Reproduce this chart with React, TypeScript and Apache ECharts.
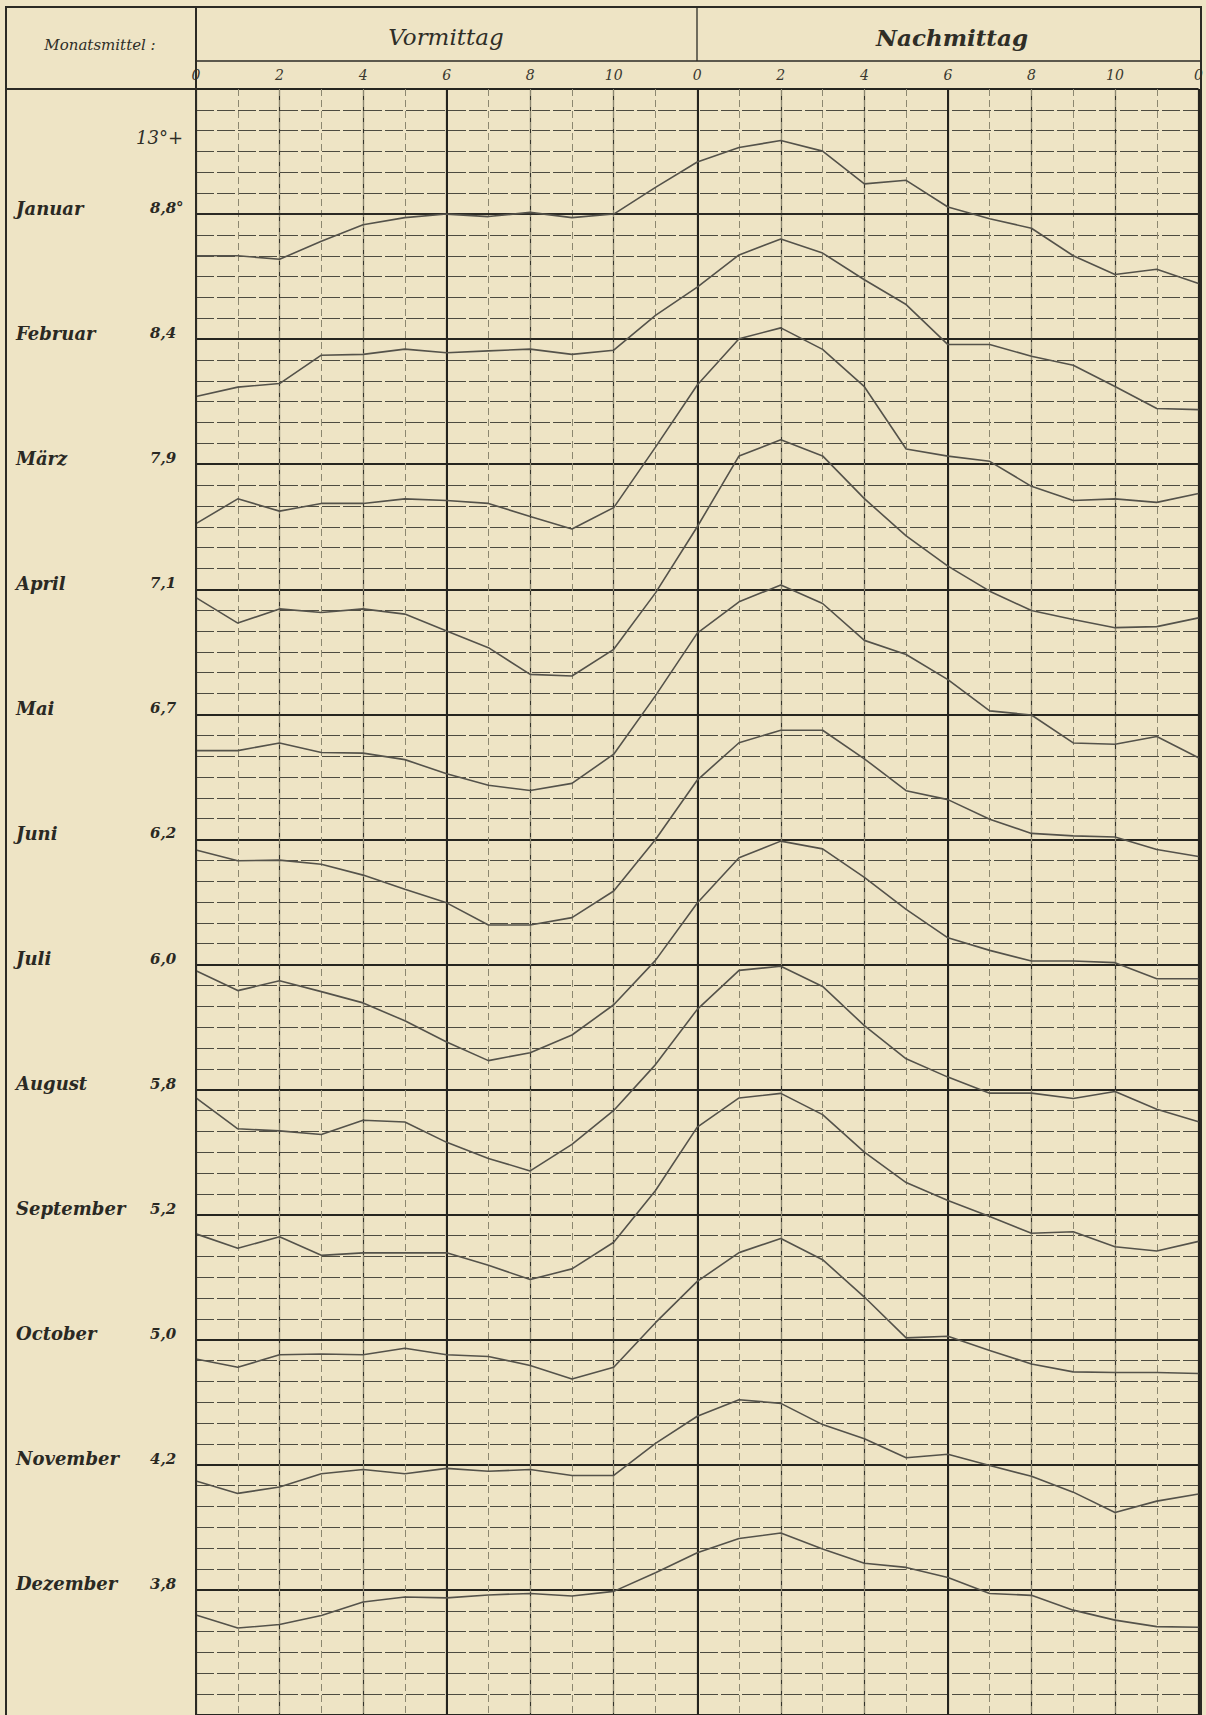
import React, { useEffect, useRef } from "react";
import * as echarts from "echarts";

// ---- data -------------------------------------------------------------
// hours of the day (0 = midnight, 12 = noon, 24 = midnight)
const hours = [0, 1, 2, 3, 4, 5, 6, 7, 8, 9, 10, 11, 12, 13, 14, 15, 16, 17, 18, 19, 20, 21, 22, 23, 24];
const hourTickLabels = ["0", "2", "4", "6", "8", "10", "0", "2", "4", "6", "8", "10", "0"];

const months = ["Januar", "Februar", "März", "April", "Mai", "Juni", "Juli", "August", "September", "October", "November", "Dezember"];
const monthMeans = ["8,8", "8,4", "7,9", "7,1", "6,7", "6,2", "6,0", "5,8", "5,2", "5,0", "4,2", "3,8"];
const scaleNote = "13°+";

// hourly deviation of each month from its mean, in grid divisions (up = warmer)
const januar = [-2.0, -2.0, -2.17, -1.3, -0.51, -0.17, 0, -0.12, 0.08, -0.17, 0, 1.28, 2.5, 3.19, 3.53, 3.02, 1.45, 1.62, 0.34, -0.22, -0.68, -2.0, -2.9, -2.65, -3.33];
const februar = [-2.75, -2.3, -2.13, -0.77, -0.73, -0.48, -0.65, -0.56, -0.48, -0.73, -0.53, 1.14, 2.5, 4.04, 4.81, 4.13, 2.85, 1.66, -0.26, -0.26, -0.82, -1.25, -2.27, -3.33, -3.38];
const maerz = [-2.85, -1.66, -2.25, -1.88, -1.88, -1.66, -1.74, -1.88, -2.51, -3.11, -2.08, 0.82, 3.8, 6.02, 6.54, 5.51, 3.72, 0.73, 0.39, 0.14, -1.06, -1.74, -1.66, -1.83, -1.4];
const april = [-0.4, -1.62, -0.94, -1.11, -0.94, -1.19, -2.0, -2.8, -4.08, -4.16, -2.88, -0.17, 3.0, 6.4, 7.17, 6.4, 4.35, 2.56, 1.11, -0.09, -1.02, -1.45, -1.84, -1.79, -1.37];
const mai = [-1.74, -1.74, -1.37, -1.83, -1.86, -2.17, -2.85, -3.4, -3.65, -3.31, -1.91, 0.9, 3.9, 5.4, 6.21, 5.32, 3.55, 2.87, 1.67, 0.17, -0.03, -1.37, -1.43, -1.06, -2.08];
const juni = [-0.51, -1.02, -0.99, -1.19, -1.71, -2.39, -3.04, -4.1, -4.1, -3.75, -2.47, 0, 2.85, 4.64, 5.24, 5.24, 3.87, 2.34, 1.91, 0.97, 0.29, 0.17, 0.12, -0.48, -0.82];
const juli = [-0.3, -1.25, -0.78, -1.3, -1.84, -2.7, -3.72, -4.61, -4.23, -3.38, -1.93, 0.2, 2.95, 5.12, 5.92, 5.55, 4.18, 2.65, 1.28, 0.68, 0.17, 0.17, 0.09, -0.68, -0.68];
const august = [-0.4, -1.88, -1.98, -2.15, -1.47, -1.55, -2.53, -3.3, -3.9, -2.63, -1.0, 1.2, 3.85, 5.72, 5.92, 4.95, 3.07, 1.48, 0.6, -0.17, -0.17, -0.43, -0.09, -0.94, -1.54];
const september = [-0.92, -1.61, -1.06, -1.95, -1.83, -1.83, -1.83, -2.43, -3.11, -2.6, -1.32, 1.16, 4.2, 5.6, 5.82, 4.8, 3.0, 1.54, 0.68, -0.09, -0.89, -0.82, -1.54, -1.74, -1.28];
const october = [-0.92, -1.32, -0.72, -0.68, -0.72, -0.41, -0.72, -0.8, -1.23, -1.88, -1.32, 0.82, 2.8, 4.18, 4.86, 3.84, 2.05, 0.09, 0.17, -0.51, -1.16, -1.54, -1.57, -1.57, -1.62];
const november = [-0.77, -1.37, -1.06, -0.43, -0.22, -0.43, -0.17, -0.31, -0.22, -0.51, -0.51, 1.03, 2.33, 3.12, 2.95, 1.93, 1.25, 0.34, 0.51, -0.03, -0.55, -1.31, -2.29, -1.74, -1.4];
const dezember = [-1.2, -1.83, -1.66, -1.23, -0.58, -0.34, -0.38, -0.24, -0.17, -0.29, -0.07, 0.82, 1.78, 2.47, 2.73, 1.96, 1.28, 1.08, 0.6, -0.17, -0.26, -0.97, -1.45, -1.76, -1.79];

const monthSeries = [januar, februar, maerz, april, mai, juni, juli, august, september, october, november, dezember];

// ---- layout -----------------------------------------------------------
const W = 1206;
const H = 1715;
const PAPER = "#eee4c5";
const INK = "#2b2a24";
const CURVE = "#54524a";
const FONT = "'DejaVu Serif', 'Liberation Serif', serif";

const ROW = 6; // grid divisions between two month base lines
const Y_MAX = 6;
const Y_MIN = -72;
const DIV_PX = 20.93;
const GRID_LEFT = 196;
const GRID_RIGHT_X = 1201;
const GRID_TOP = 89;

export default function App() {
  const ref = useRef<HTMLDivElement>(null);

  useEffect(() => {
    if (!ref.current) return;
    const chart = echarts.init(ref.current, null, { renderer: "svg" });

    const series = monthSeries.map((vals, i) => ({
      type: "line",
      name: months[i],
      xAxisIndex: 0,
      yAxisIndex: 0,
      data: vals.map((v, k) => [hours[k], v - i * ROW]),
      symbol: "none",
      silent: true,
      lineStyle: { color: CURVE, width: 1.6 },
      z: 5,
    }));

    const monthLabel = (value: number) => {
      const idx = Math.round(-value / ROW);
      if (Math.abs(value + idx * ROW) > 0.01 || idx < 0 || idx >= months.length) return "";
      return `{n|${months[idx]}}{v|${monthMeans[idx]}${idx === 0 ? "°" : ""}}`;
    };

    const option: any = {
      animation: false,
      backgroundColor: PAPER,
      grid: {
        left: GRID_LEFT,
        right: W - GRID_RIGHT_X,
        top: GRID_TOP,
        height: (Y_MAX - Y_MIN) * DIV_PX,
        containLabel: false,
      },
      xAxis: [
        {
          type: "value",
          min: 0,
          max: 24,
          interval: 2,
          position: "top",
          axisLine: { show: true, lineStyle: { color: INK, width: 2 } },
          axisTick: { show: false },
          axisLabel: {
            show: true,
            margin: 7,
            showMinLabel: true,
            showMaxLabel: true,
            fontFamily: FONT,
            fontStyle: "italic",
            fontSize: 14,
            color: "#3a382f",
            formatter: (v: number) => hourTickLabels[Math.round(v / 2)] ?? "",
          },
          splitLine: { show: true, lineStyle: { color: "#34332b", width: 1.2 } },
        },
        {
          type: "value",
          min: 0,
          max: 24,
          interval: 1,
          position: "bottom",
          axisLine: { show: false },
          axisTick: { show: false },
          axisLabel: { show: false },
          splitLine: { show: true, lineStyle: { color: "#8c8770", width: 1, type: [7, 4] } },
        },
        {
          type: "value",
          min: 0,
          max: 24,
          interval: 6,
          position: "bottom",
          axisLine: { show: false },
          axisTick: { show: false },
          axisLabel: { show: false },
          splitLine: { show: true, lineStyle: { color: "#24231e", width: 2 } },
        },
      ],
      yAxis: [
        {
          type: "value",
          min: Y_MIN,
          max: Y_MAX,
          interval: 1,
          position: "right",
          axisLine: { show: false },
          axisTick: { show: false },
          axisLabel: { show: false },
          splitLine: { show: true, lineStyle: { color: "#4d4b40", width: 1, type: [18, 3] } },
        },
        {
          type: "value",
          min: Y_MIN,
          max: Y_MAX,
          interval: ROW,
          position: "left",
          axisLine: { show: false },
          axisTick: { show: false },
          splitLine: { show: true, lineStyle: { color: "#26251f", width: 2 } },
          axisLabel: {
            show: true,
            margin: 10,
            align: "right",
            verticalAlign: "middle",
            padding: [0, 0, 12, 0],
            formatter: monthLabel,
            rich: {
              n: { width: 134, align: "left", fontFamily: FONT, fontStyle: "italic", fontWeight: "bold", fontSize: 18, color: "#2a2923" },
              v: { width: 36, align: "left", fontFamily: FONT, fontStyle: "italic", fontWeight: "bold", fontSize: 15, color: "#2a2923" },
            },
          },
        },
      ],
      graphic: [
        // outer frame
        { type: "rect", silent: true, shape: { x: 6, y: 7, width: GRID_RIGHT_X - 6, height: H }, style: { fill: "none", stroke: INK, lineWidth: 2 }, z: 10 },
        // label column divider
        { type: "line", silent: true, shape: { x1: GRID_LEFT, y1: 7, x2: GRID_LEFT, y2: H }, style: { stroke: INK, lineWidth: 2 }, z: 10 },
        // header: line under titles
        { type: "line", silent: true, shape: { x1: GRID_LEFT, y1: 61, x2: GRID_RIGHT_X, y2: 61 }, style: { stroke: INK, lineWidth: 1.3 }, z: 10 },
        // header: divider between Vormittag and Nachmittag
        { type: "line", silent: true, shape: { x1: 697, y1: 7, x2: 697, y2: 61 }, style: { stroke: INK, lineWidth: 1.3 }, z: 10 },
        // header bottom under label column
        { type: "line", silent: true, shape: { x1: 6, y1: GRID_TOP, x2: GRID_LEFT, y2: GRID_TOP }, style: { stroke: INK, lineWidth: 2 }, z: 10 },
        { type: "text", silent: true, x: 100, y: 45, style: { text: "Monatsmittel :", font: `italic 15px ${FONT}`, fill: "#2f2e27", textAlign: "center", textVerticalAlign: "middle" }, z: 10 },
        { type: "text", silent: true, x: 446, y: 37, style: { text: "Vormittag", font: `italic 23px ${FONT}`, fill: "#2f2e27", textAlign: "center", textVerticalAlign: "middle" }, z: 10 },
        { type: "text", silent: true, x: 952, y: 37, style: { text: "Nachmittag", font: `italic bold 23px ${FONT}`, fill: "#2f2e27", textAlign: "center", textVerticalAlign: "middle" }, z: 10 },
        { type: "text", silent: true, x: 183, y: 137, style: { text: scaleNote, font: `italic 18px ${FONT}`, fill: "#2f2e27", textAlign: "right", textVerticalAlign: "middle" }, z: 10 },
      ],
      series,
    };

    chart.setOption(option);
    return () => chart.dispose();
  }, []);

  return (
    <div style={{ position: "fixed", left: 0, top: 0, width: W, height: H, background: PAPER, overflow: "hidden" }}>
      <div ref={ref} style={{ width: W, height: H }} />
    </div>
  );
}
